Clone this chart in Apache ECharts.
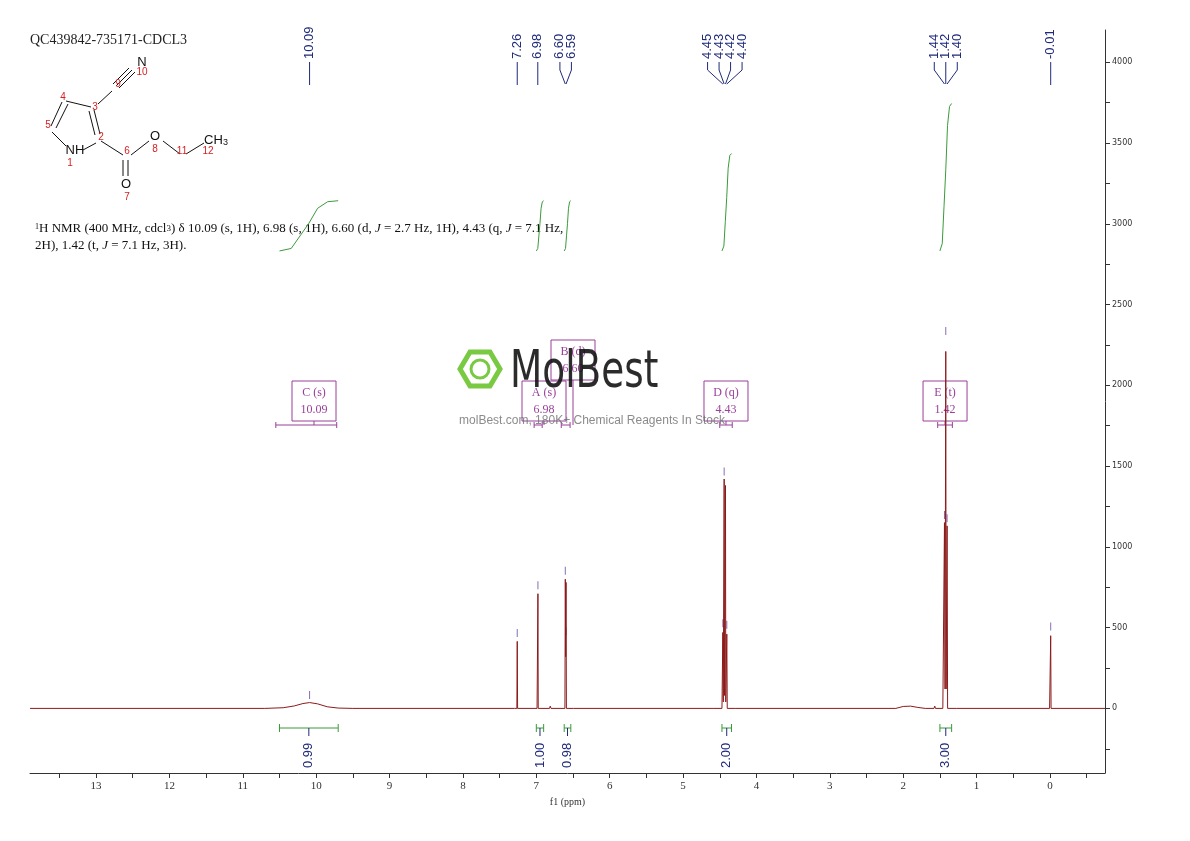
<!DOCTYPE html>
<html>
<head>
<meta charset="utf-8">
<script src="https://cdn.jsdelivr.net/npm/echarts@6/dist/echarts.min.js"></script>
<style>html,body{margin:0;padding:0;background:#fff}#main{width:1190px;height:841px}</style>
</head>
<body>
<div id="main"></div>
<script>
// spectrum trace [ppm, intensity]
var spectrum = [
  [13.9,0],[10.7,0],[10.45,4],[10.3,15],[10.18,30],[10.09,36],[9.98,28],[9.85,10],[9.7,2],[9.5,0],
  [7.30,0],[7.265,0],[7.26,415],[7.255,0],
  [6.99,0],[6.982,0],[6.978,710],[6.974,0],
  [6.82,0],[6.81,14],[6.80,0],
  [6.61,0],[6.605,800],[6.60,320],[6.595,780],[6.59,0],
  [6.49,0],[6.48,10],[6.47,0],
  [4.62,0],[4.6,8],[4.58,0],
  [4.47,0],[4.462,0],[4.458,470],[4.452,40],[4.444,40],[4.44,1420],[4.436,80],[4.426,80],[4.422,1380],[4.418,40],[4.41,40],[4.404,460],[4.398,0],[4.39,0],
  [4.28,0],[4.27,10],[4.26,0],
  [2.1,0],[2.0,12],[1.9,14],[1.8,6],[1.7,0],
  [1.58,0],[1.57,14],[1.56,0],
  [1.46,0],[1.445,0],[1.4375,1150],[1.43,120],[1.425,120],[1.42,2210],[1.415,120],[1.41,120],[1.402,1130],[1.395,0],[1.38,0],
  [1.27,0],[1.26,10],[1.25,0],
  [0.005,0],[-0.005,0],[-0.01,450],[-0.015,0],[-0.75,0]
];
// peak pick marks [ppm, intensity]
var peakPicks = [[10.09,45],[7.26,430],[6.978,725],[6.605,815],[6.595,440],[4.458,490],[4.44,1430],[4.422,1150],[4.404,480],
  [1.4375,1160],[1.42,2300],[1.402,1140],[-0.01,470]];
// axis ticks
var xTicks = [0,1,2,3,4,5,6,7,8,9,10,11,12,13];
var xMinorTicks = [-0.5,0,0.5,1,1.5,2,2.5,3,3.5,4,4.5,5,5.5,6,6.5,7,7.5,8,8.5,9,9.5,10,10.5,11,11.5,12,12.5,13,13.5];
var yTicks = [-250,0,250,500,750,1000,1250,1500,1750,2000,2250,2500,2750,3000,3250,3500,3750,4000];
var yLabels = [0,500,1000,1500,2000,2500,3000,3500,4000];
// top labels: text, peak ppm
var peakLabels = [
  ['10.09',10.09],['7.26',7.26],['6.98',6.98],['6.60',6.605],['6.59',6.595],
  ['4.45',4.458],['4.43',4.44],['4.42',4.422],['4.40',4.404],
  ['1.44',1.4375],['1.42',1.42],['1.40',1.402],['-0.01',-0.01]
];
var labelGroups = [[0],[1],[2],[3,4],[5,6,7,8],[9,10,11],[12]];
// integral curves [from ppm, to ppm, low value, high value]
var integrals = [[10.5,9.7,2832,3143],[7.0,6.9,2832,3143],[6.62,6.53,2832,3143],[4.47,4.34,2832,3435],[1.5,1.34,2832,3745]];
var integralValues = ['0.99','1.00','0.98','2.00','3.00'];
// multiplet boxes
var multiplets = [
  {name:'C (s)', shift:'10.09', from:10.55, to:9.72},
  {name:'A (s)', shift:'6.98', from:7.03, to:6.92},
  {name:'B (d)', shift:'6.60', from:6.66, to:6.54},
  {name:'D (q)', shift:'4.43', from:4.5, to:4.33},
  {name:'E (t)', shift:'1.42', from:1.53, to:1.33}
];

var integralData = [];
integrals.forEach(function(g){
  var a=g[0], b=g[1], lo=g[2], hi=g[3], d=a-b;
  integralData.push([a,lo],[a-d*0.2,lo+(hi-lo)*0.05],[a-d*0.35,lo+(hi-lo)*0.3],[a-d*0.5,lo+(hi-lo)*0.55],
    [a-d*0.65,lo+(hi-lo)*0.85],[a-d*0.82,hi-(hi-lo)*0.02],[b,hi],null);
});

var chart = echarts.init(document.getElementById('main'));
var serif = 'Liberation Serif';
chart.setOption({
  animation: false,
  grid: {left: 30, right: 85, top: 30, bottom: 68},
  xAxis: {
    type: 'value', inverse: true, min: -0.75, max: 13.9,
    name: 'f1 (ppm)', nameLocation: 'middle', nameGap: 24,
    nameTextStyle: {fontFamily: serif, fontSize: 10, color: '#333'},
    axisLine: {onZero: false, lineStyle: {color: '#333'}},
    axisTick: {customValues: xMinorTicks, length: 5, lineStyle: {color: '#333'}},
    splitLine: {show: false},
    axisLabel: {customValues: xTicks, fontFamily: serif, fontSize: 11, color: '#333', margin: 8}
  },
  yAxis: {
    type: 'value', position: 'right', min: -400, max: 4200,
    axisLine: {show: true, onZero: false, lineStyle: {color: '#333'}},
    axisTick: {customValues: yTicks, inside: false, length: 5, lineStyle: {color: '#333'}},
    axisLabel: {customValues: yLabels, fontFamily: 'DejaVu Sans', fontSize: 8, color: '#333', margin: 7,
      formatter: function(v){ return String(v); }},
    splitLine: {show: false}
  },
  series: [
    {type: 'line', data: spectrum, symbol: 'none', lineStyle: {color: '#8b1a1a', width: 1}, silent: true},
    {type: 'line', data: integralData, symbol: 'none', connectNulls: false, lineStyle: {color: '#3a9a3a', width: 1}, silent: true},
    {type: 'scatter', data: peakPicks, symbol: 'rect', symbolSize: [1, 8], symbolOffset: [0, -6], itemStyle: {color: '#6a4aa0'}, silent: true}
  ]
});

function px(x, y){ return chart.convertToPixel({seriesIndex: 0}, [x, y]); }
var g = [];
var navy = '#1f2a7a', purple = '#9a3f9a', green = '#3a9a3a';
function line(x1,y1,x2,y2,c){ g.push({type:'line', shape:{x1:x1,y1:y1,x2:x2,y2:y2}, style:{stroke:c, lineWidth:1}}); }
function text(x,y,t,opt){ g.push({type:'text', x:x, y:y, rotation: opt.rot || 0, scaleX: opt.sx || 1, style: Object.assign({text:t}, opt.style)}); }

// top peak labels
labelGroups.forEach(function(grp){
  var xs = grp.map(function(i){ return px(peakLabels[i][1],0)[0]; });
  var c = xs.reduce(function(a,b){return a+b;},0)/xs.length;
  grp.forEach(function(i, k){
    var lx = c + (k - (grp.length-1)/2) * 11.5;
    var x = xs[k];
    text(lx, 59, peakLabels[i][0], {rot: Math.PI/2, style:{fill: navy, fontFamily: 'Liberation Sans', fontSize: 13, align: 'left', verticalAlign: 'middle'}});
    if (grp.length === 1) line(lx, 62, lx, 85, navy);
    else { line(lx, 62, lx, 70, navy); line(lx, 70, x, 84, navy); }
  });
});

// integration bars and values
integrals.forEach(function(it, i){
  var a = px(it[0],0)[0], b = px(it[1],0)[0], m = (a+b)/2, y = 728;
  line(a, y, b, y, green); line(a, y-4, a, y+4, green); line(b, y-4, b, y+4, green);
  line(m, y, m, y+8, navy);
  text(m, 768, integralValues[i], {rot: Math.PI/2, style:{fill: navy, fontFamily: 'Liberation Sans', fontSize: 13, align: 'left', verticalAlign: 'middle'}});
});

// multiplet boxes
multiplets.forEach(function(m, i){
  var a = px(m.from,0)[0], b = px(m.to,0)[0], c = (a+b)/2;
  var top = i === 2 ? 340 : 381, w = 44;
  var bx = c - w/2;
  if (i === 0) bx = 292;
  if (i === 1) bx = 522;
  if (i === 2) bx = 551;
  g.push({type:'rect', shape:{x:bx, y:top, width:w, height:40}, style:{fill:'none', stroke:purple, lineWidth:1}});
  text(bx + w/2, top + 12, m.name, {style:{fill: purple, fontFamily: serif, fontSize: 12, align: 'center', verticalAlign: 'middle'}});
  text(bx + w/2, top + 29, m.shift, {style:{fill: purple, fontFamily: serif, fontSize: 12, align: 'center', verticalAlign: 'middle'}});
  var ry = 425;
  line(a, ry, b, ry, purple); line(a, ry-3, a, ry+3, purple); line(b, ry-3, b, ry+3, purple);
  line(bx + w/2, top + 40, bx + w/2, ry, purple);
});

// title and description
text(30, 40, 'QC439842-735171-CDCL3', {style:{fill:'#222', fontFamily: serif, fontSize: 14, verticalAlign:'middle'}});
text(35, 229, '{s|1}H NMR (400 MHz, cdcl{b|3}) δ 10.09 (s, 1H), 6.98 (s, 1H), 6.60 (d, {i|J} = 2.7 Hz, 1H), 4.43 (q, {i|J} = 7.1 Hz,',
  {style:{fill:'#111', fontFamily: serif, fontSize: 13, verticalAlign:'middle', rich:{s:{fontSize:8, verticalAlign:'top', fontFamily: serif}, b:{fontSize:9, fontFamily: serif}, i:{fontStyle:'italic', fontFamily: serif, fontSize: 13}}}});
text(35, 246, '2H), 1.42 (t, {i|J} = 7.1 Hz, 3H).', {style:{fill:'#111', fontFamily: serif, fontSize: 13, verticalAlign:'middle', rich:{i:{fontStyle:'italic', fontFamily: serif, fontSize: 13}}}});

// structure
var bonds = [[66,101,91,107],[56,128,68,104],[51,126,62,102],[89,111,95,135],[94,110,100,134],[96,143,83,150],[52,132,66,146],
  [98,104,112,91],[116,86,132,70],[119,88,135,72],[113,84,129,68],[101,141,123,155],[131,155,149,141],[163,141,180,154],[186,154,204,143],
  [123,160,123,176],[128,160,128,176]];
bonds.forEach(function(b){ line(b[0],b[1],b[2],b[3],'#111'); });
var atoms = [['N',142,62],['NH',75,150],['O',155,136],['O',126,184],['CH{s|3}',216,140]];
atoms.forEach(function(a){ text(a[1],a[2],a[0],{style:{fill:'#111', fontFamily:'Liberation Sans', fontSize:13, align:'center', verticalAlign:'middle', rich:{s:{fontSize:9, verticalAlign:'bottom', padding:[6,0,0,0]}}}}); });
var nums = [['10',142,72],['9',118,84],['4',63,97],['3',95,107],['5',48,125],['2',101,137],['1',70,163],['6',127,151],['8',155,149],['11',182,151],['12',208,151],['7',127,197]];
nums.forEach(function(a){ text(a[1],a[2],a[0],{style:{fill:'#d62020', fontFamily:'Liberation Sans', fontSize:10, align:'center', verticalAlign:'middle'}}); });

// watermark
g.push({type:'polygon', shape:{points:[[470,352],[490,352],[500,369],[490,386],[470,386],[460,369]]}, style:{fill:'none', stroke:'#7ac943', lineWidth:5}});
g.push({type:'circle', shape:{cx:480, cy:369, r:9}, style:{fill:'none', stroke:'#7ac943', lineWidth:3}});
text(510, 373, 'MolBest', {sx: 0.72, style:{fill:'rgba(20,20,20,0.9)', fontFamily:'DejaVu Sans', fontSize:52, align:'left', verticalAlign:'middle'}});
text(592, 421, 'molBest.com, 180K+ Chemical Reagents In Stock', {style:{fill:'rgba(110,110,110,0.8)', fontFamily:'Liberation Sans', fontSize:12, align:'center', verticalAlign:'middle'}});

chart.setOption({graphic: g});
window.addEventListener('resize', function(){ chart.resize(); });
</script>
</body>
</html>
